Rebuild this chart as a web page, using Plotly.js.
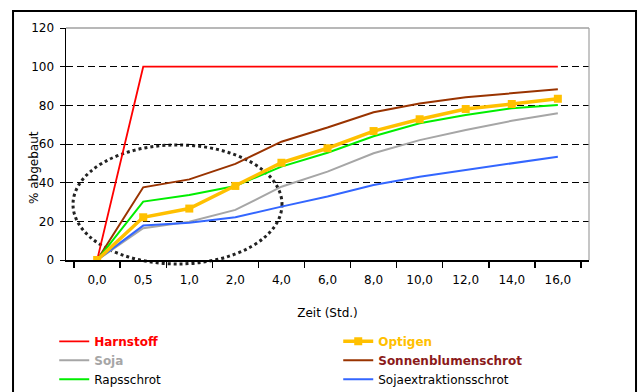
<!DOCTYPE html>
<html>
<head>
<meta charset="utf-8">
<script src="https://cdn.plot.ly/plotly-3.0.1.min.js"></script>
<style>html,body{margin:0;padding:0;background:#fff;}#chart{width:643px;height:392px;}</style>
</head>
<body>
<div id="chart"></div>
<script>
var zeit = ['0,0','0,5','1,0','2,0','4,0','6,0','8,0','10,0','12,0','14,0','16,0'];
var harnstoff = [0,100,100,100,100,100,100,100,100,100,100];
var optigen = [0,22.1,26.6,38.3,50.3,57.8,66.7,72.8,78.1,80.7,83.4];
var soja = [0,16.4,19.8,25.9,37.9,45.7,55.2,62.0,67.2,72.0,75.9];
var sonnenblumenschrot = [0,37.6,41.7,49.7,61.2,68.5,76.4,81.0,84.2,86.2,88.3];
var rapsschrot = [0,30.2,33.6,38.3,48.3,55.5,64.0,70.7,75.0,78.5,80.2];
var sojaextraktionsschrot = [0,17.8,19.3,22.1,27.6,32.8,38.8,43.1,46.6,50.0,53.4];
var yTicks = [0,20,40,60,80,100,120];

var font = 'DejaVu Sans, sans-serif';
function tr(name, y, color, width, rank, extra) {
  var t = {x: zeit, y: y, type: 'scatter', mode: 'lines', name: name,
    line: {color: color, width: width}, legendrank: rank, hoverinfo: 'skip'};
  for (var k in extra) t[k] = extra[k];
  return t;
}
var data = [
  tr('<b><span style="color:#FF0000">Harnstoff</span></b>', harnstoff, '#FF0000', 1.8, 1),
  tr('<b><span style="color:#A6A6A6">Soja</span></b>', soja, '#A6A6A6', 2, 3),
  tr('<b><span style="color:#8B1A1A">Sonnenblumenschrot</span></b>', sonnenblumenschrot, '#993300', 2, 4),
  tr('Sojaextraktionsschrot', sojaextraktionsschrot, '#3366FF', 2, 6),
  tr('Rapsschrot', rapsschrot, '#00EE00', 2, 5),
  tr('<b><span style="color:#FFC000">Optigen</span></b>', optigen, '#FFC000', 3.5, 2,
     {mode: 'lines+markers', marker: {symbol: 'square', size: 8, color: '#FFC000'}})
];

var layout = {
  width: 643, height: 392,
  margin: {l: 66, r: 54, t: 28, b: 132, autoexpand: false},
  paper_bgcolor: '#fff', plot_bgcolor: '#fff',
  font: {family: font, size: 12, color: '#000'},
  showlegend: true,
  legend: {orientation: 'h', x: -0.0225, xanchor: 'left', y: -0.288, yanchor: 'top',
    entrywidth: 239, font: {family: font, size: 12, color: '#000'},
    tracegroupgap: 0, itemclick: false},
  xaxis: {type: 'category', tickson: 'boundaries', ticks: 'outside', ticklen: 6, tickwidth: 1.5,
    tickcolor: '#000', showline: true, linecolor: '#000', linewidth: 1.5,
    showgrid: false, zeroline: false, fixedrange: true, automargin: false,
    ticklabelstandoff: 8,
    tickfont: {family: font, size: 12, color: '#000'},
    title: {text: 'Zeit (Std.)', font: {family: font, size: 12, color: '#000'}, standoff: 22}},
  yaxis: {range: [0, 120], tickvals: yTicks, ticks: 'outside', ticklen: 5,
    tickcolor: '#000', showline: true, linecolor: '#000', linewidth: 1.5,
    showgrid: true, gridcolor: '#000', gridwidth: 1, griddash: '7px,4px',
    zeroline: false, fixedrange: true, automargin: false, ticklabelstandoff: 3,
    tickfont: {family: font, size: 12, color: '#000'}},
  annotations: [{text: '% abgebaut', textangle: -90, xref: 'paper', yref: 'paper',
    x: -0.061, y: 0.397, xanchor: 'center', yanchor: 'middle', showarrow: false,
    font: {family: font, size: 12, color: '#000'}}],
  shapes: [
    {type: 'line', xref: 'paper', yref: 'paper', x0: 0, x1: 1, y0: 1, y1: 1,
      line: {color: '#A0A0A0', width: 1.4}, layer: 'above'},
    {type: 'line', xref: 'paper', yref: 'paper', x0: 1, x1: 1, y0: 0, y1: 1,
      line: {color: '#A0A0A0', width: 1.2}, layer: 'above'},
    {type: 'circle', xref: 'paper', yref: 'paper', x0: 0.0134, x1: 0.413, y0: -0.017, y1: 0.496,
      line: {color: '#222', width: 3, dash: 'dot'}, layer: 'below'},
    {type: 'rect', xref: 'paper', yref: 'paper', x0: -0.1013, x1: 1.0899, y0: -0.62, y1: 1.0733,
      line: {color: '#000', width: 2}, layer: 'below'}
  ]
};
Plotly.newPlot('chart', data, layout, {staticPlot: true, displayModeBar: false});
</script>
</body>
</html>
